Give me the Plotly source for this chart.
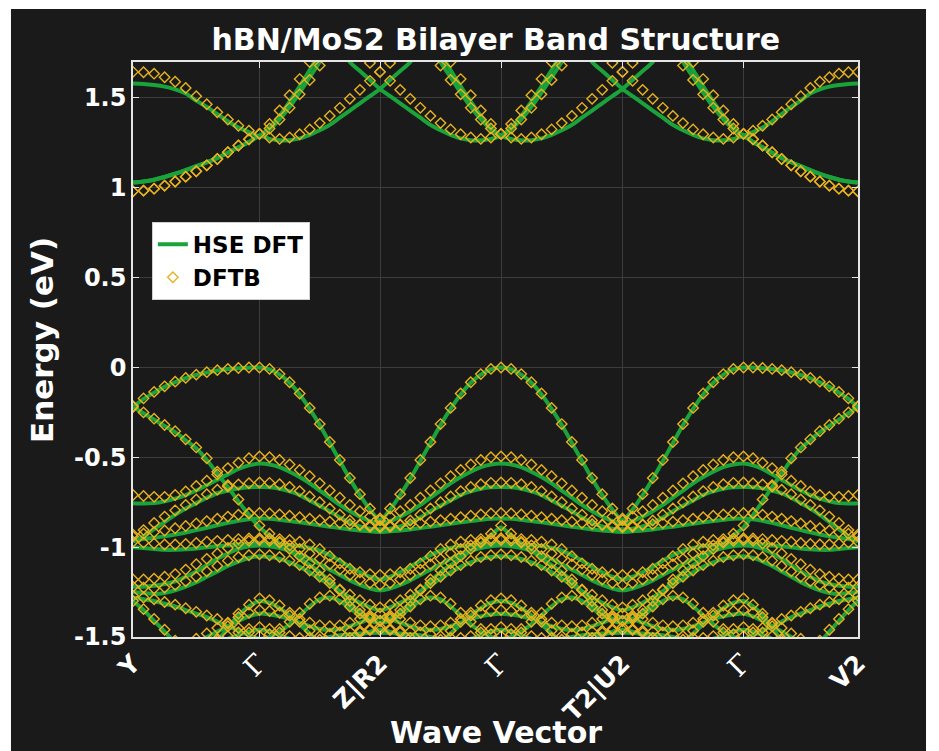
import numpy as np
import plotly.graph_objects as go

# ---------------------------------------------------------------
# k-path: Y - Γ - Z|R2 - Γ - T2|U2 - Γ - V2
# ---------------------------------------------------------------
tick_labels = ["Y", "Γ", "Z|R2", "Γ", "T2|U2", "Γ", "V2"]
segment_lengths = [1.265, 1.205, 1.21, 1.215, 1.21, 1.145]
points_per_leg = 12

# ---------------------------------------------------------------
# Conduction bands (eV). Legs: Y-Γ  and  Γ-Z|R2 pieces
# ---------------------------------------------------------------
hse_c_low_yg = [1.03, 1.035, 1.045, 1.06, 1.078, 1.098, 1.12, 1.142, 1.165, 1.195, 1.225, 1.255, 1.29]
hse_c_up_yg = [1.58, 1.578, 1.572, 1.563, 1.548, 1.525, 1.485, 1.45, 1.41, 1.37, 1.335, 1.31, 1.29]
hse_c_p_gz = [1.29, 1.272, 1.264, 1.265, 1.275, 1.295, 1.32, 1.35, 1.39, 1.43, 1.47, 1.51, 1.55]
hse_c_sq_gz = [1.29, 1.335, 1.40, 1.48, 1.565, 1.655, 1.75, 1.84, 1.80, 1.70, 1.65, 1.60, 1.55]
hse_c_ss_gz = [1.29, 1.325, 1.38, 1.45, 1.53, 1.615, 1.70, 1.80, 1.90, 1.96, 2.0, 2.02, 2.03]

dftb_c_low_yg = [0.98, 0.984, 0.995, 1.012, 1.035, 1.062, 1.092, 1.125, 1.16, 1.198, 1.235, 1.27, 1.30]
dftb_c_up_yg = [1.645, 1.643, 1.635, 1.615, 1.59, 1.555, 1.51, 1.465, 1.42, 1.38, 1.345, 1.318, 1.30]
dftb_c_p_gz = [1.30, 1.28, 1.272, 1.28, 1.298, 1.325, 1.36, 1.40, 1.445, 1.495, 1.545, 1.595, 1.645]
dftb_c_sq_gz = [1.30, 1.355, 1.43, 1.515, 1.605, 1.70, 1.80, 1.88, 1.86, 1.80, 1.745, 1.695, 1.645]
dftb_c_ss_gz = [1.30, 1.33, 1.38, 1.445, 1.52, 1.60, 1.68, 1.77, 1.86, 1.93, 1.98, 2.0, 2.01]

# ---------------------------------------------------------------
# Valence bands (eV): (Y-Γ leg, Γ-Z|R2 leg)
# ---------------------------------------------------------------
hse_valence = [
    ([-0.22, -0.175, -0.14, -0.108, -0.082, -0.06, -0.042, -0.028, -0.017, -0.009, -0.004, -0.001, 0.0],
     [0.0, -0.01, -0.04, -0.085, -0.15, -0.23, -0.32, -0.42, -0.52, -0.62, -0.71, -0.79, -0.85]),
    ([-0.22, -0.255, -0.29, -0.325, -0.36, -0.405, -0.45, -0.515, -0.59, -0.665, -0.745, -0.82, -0.89],
     [-0.89, -0.935, -0.98, -1.02, -1.06, -1.10, -1.14, -1.19, -1.25, -1.31, -1.36, -1.40, -1.42]),
    ([-0.755, -0.757, -0.755, -0.745, -0.73, -0.71, -0.685, -0.655, -0.625, -0.595, -0.565, -0.545, -0.535],
     [-0.535, -0.54, -0.555, -0.58, -0.61, -0.645, -0.685, -0.725, -0.765, -0.80, -0.83, -0.855, -0.87]),
    ([-0.97, -0.94, -0.90, -0.86, -0.82, -0.785, -0.755, -0.725, -0.70, -0.685, -0.673, -0.667, -0.665],
     [-0.665, -0.667, -0.675, -0.69, -0.71, -0.74, -0.77, -0.80, -0.835, -0.865, -0.885, -0.897, -0.90]),
    ([-0.96, -0.955, -0.948, -0.94, -0.93, -0.918, -0.905, -0.892, -0.878, -0.865, -0.853, -0.845, -0.84],
     [-0.84, -0.842, -0.848, -0.855, -0.862, -0.87, -0.878, -0.886, -0.894, -0.902, -0.908, -0.912, -0.915]),
    ([-1.0, -1.005, -1.01, -1.015, -1.015, -1.012, -1.008, -1.0, -0.995, -0.99, -0.985, -0.982, -0.98],
     [-0.98, -0.982, -0.985, -0.99, -0.995, -1.005, -1.02, -1.045, -1.075, -1.11, -1.14, -1.165, -1.18]),
    ([-1.22, -1.22, -1.215, -1.205, -1.19, -1.165, -1.135, -1.10, -1.065, -1.035, -1.01, -0.995, -0.99],
     [-0.99, -0.995, -1.005, -1.02, -1.04, -1.065, -1.095, -1.125, -1.155, -1.185, -1.21, -1.23, -1.24]),
    ([-1.25, -1.255, -1.26, -1.255, -1.24, -1.22, -1.195, -1.165, -1.135, -1.105, -1.08, -1.06, -1.05],
     [-1.05, -1.055, -1.065, -1.085, -1.11, -1.14, -1.175, -1.21, -1.245, -1.28, -1.31, -1.335, -1.35]),
    ([-1.28, -1.29, -1.30, -1.315, -1.33, -1.35, -1.37, -1.39, -1.415, -1.44, -1.465, -1.49, -1.51],
     [-1.51, -1.50, -1.47, -1.43, -1.38, -1.33, -1.29, -1.28, -1.30, -1.34, -1.38, -1.41, -1.42]),
    ([-1.30, -1.35, -1.41, -1.47, -1.53, -1.58, -1.60, -1.58, -1.52, -1.45, -1.38, -1.33, -1.30],
     [-1.30, -1.31, -1.34, -1.38, -1.43, -1.48, -1.53, -1.56, -1.55, -1.52, -1.49, -1.47, -1.46]),
    ([-1.62, -1.62, -1.61, -1.60, -1.58, -1.56, -1.53, -1.50, -1.47, -1.44, -1.41, -1.385, -1.37],
     [-1.37, -1.375, -1.385, -1.40, -1.42, -1.44, -1.455, -1.46, -1.455, -1.44, -1.42, -1.40, -1.39]),
    ([-1.75, -1.74, -1.72, -1.70, -1.67, -1.64, -1.60, -1.57, -1.54, -1.51, -1.49, -1.47, -1.46],
     [-1.46, -1.47, -1.49, -1.51, -1.52, -1.52, -1.51, -1.50, -1.49, -1.485, -1.48, -1.478, -1.477]),
]

dftb_valence = [
    ([-0.22, -0.172, -0.136, -0.105, -0.079, -0.058, -0.04, -0.026, -0.015, -0.008, -0.003, 0.0, 0.0],
     [0.0, -0.008, -0.037, -0.082, -0.145, -0.225, -0.315, -0.415, -0.515, -0.615, -0.705, -0.785, -0.84]),
    ([-0.215, -0.25, -0.285, -0.32, -0.355, -0.40, -0.445, -0.505, -0.58, -0.655, -0.735, -0.81, -0.88],
     [-0.88, -0.925, -0.97, -1.01, -1.05, -1.09, -1.13, -1.18, -1.24, -1.30, -1.35, -1.39, -1.41]),
    ([-0.71, -0.715, -0.72, -0.72, -0.71, -0.69, -0.66, -0.63, -0.595, -0.56, -0.53, -0.505, -0.495],
     [-0.495, -0.50, -0.515, -0.54, -0.57, -0.605, -0.645, -0.685, -0.725, -0.765, -0.80, -0.83, -0.85]),
    ([-0.94, -0.905, -0.865, -0.83, -0.795, -0.765, -0.735, -0.705, -0.68, -0.663, -0.651, -0.644, -0.64],
     [-0.64, -0.642, -0.65, -0.665, -0.688, -0.718, -0.75, -0.785, -0.82, -0.852, -0.874, -0.887, -0.89]),
    ([-0.93, -0.925, -0.917, -0.907, -0.895, -0.882, -0.868, -0.855, -0.842, -0.83, -0.82, -0.813, -0.81],
     [-0.81, -0.812, -0.818, -0.825, -0.833, -0.842, -0.85, -0.858, -0.866, -0.872, -0.877, -0.88, -0.882]),
    ([-0.97, -0.975, -0.98, -0.985, -0.985, -0.982, -0.977, -0.97, -0.965, -0.96, -0.955, -0.952, -0.95],
     [-0.95, -0.952, -0.955, -0.96, -0.97, -0.985, -1.01, -1.05, -1.09, -1.12, -1.14, -1.15, -1.155]),
    ([-1.18, -1.18, -1.175, -1.165, -1.15, -1.125, -1.095, -1.065, -1.035, -1.005, -0.98, -0.965, -0.96],
     [-0.96, -0.965, -0.975, -0.99, -1.01, -1.035, -1.065, -1.095, -1.125, -1.155, -1.18, -1.2, -1.21]),
    ([-1.22, -1.225, -1.23, -1.225, -1.21, -1.19, -1.165, -1.135, -1.105, -1.075, -1.055, -1.045, -1.04],
     [-1.04, -1.045, -1.055, -1.075, -1.10, -1.13, -1.165, -1.20, -1.235, -1.265, -1.295, -1.32, -1.335]),
    ([-1.27, -1.28, -1.29, -1.305, -1.32, -1.34, -1.36, -1.38, -1.40, -1.425, -1.45, -1.475, -1.495],
     [-1.495, -1.485, -1.455, -1.415, -1.365, -1.315, -1.28, -1.27, -1.29, -1.33, -1.37, -1.40, -1.41]),
    ([-1.30, -1.345, -1.40, -1.46, -1.52, -1.57, -1.59, -1.57, -1.51, -1.44, -1.37, -1.32, -1.285],
     [-1.285, -1.295, -1.325, -1.365, -1.415, -1.465, -1.515, -1.545, -1.535, -1.505, -1.475, -1.455, -1.445]),
    ([-1.60, -1.60, -1.59, -1.58, -1.56, -1.54, -1.51, -1.48, -1.45, -1.42, -1.39, -1.365, -1.35],
     [-1.35, -1.355, -1.365, -1.38, -1.40, -1.42, -1.435, -1.44, -1.435, -1.42, -1.40, -1.38, -1.37]),
    ([-1.73, -1.72, -1.70, -1.68, -1.65, -1.62, -1.58, -1.55, -1.52, -1.495, -1.475, -1.455, -1.445],
     [-1.445, -1.455, -1.475, -1.495, -1.505, -1.505, -1.495, -1.485, -1.475, -1.47, -1.465, -1.462, -1.46]),
]

# ---------------------------------------------------------------
# Build the full path
# ---------------------------------------------------------------
k_ticks = np.concatenate([[0.0], np.cumsum(segment_lengths)])
k = np.concatenate([
    np.linspace(k_ticks[i], k_ticks[i + 1], points_per_leg + 1)[(1 if i else 0):]
    for i in range(len(segment_lengths))
])


def rev(seg):
    return list(seg)[::-1]


def join(*legs):
    out = list(legs[0])
    for leg in legs[1:]:
        out += list(leg)[1:]
    return out


def valence_path(yg, gz):
    # Y-Γ, Γ-Z|R2, Z|R2-Γ, Γ-T2|U2, T2|U2-Γ, Γ-V2
    return join(yg, gz, rev(gz), gz, rev(gz), rev(yg))


def conduction_paths(low, up, p, sq, ss):
    return [
        join(low, p, rev(sq), p, rev(sq), rev(low)),
        join(up, sq, rev(p), sq, rev(p), rev(up)),
        join(low, ss, rev(ss), ss, rev(ss), rev(low)),
    ]


hse_bands = conduction_paths(hse_c_low_yg, hse_c_up_yg, hse_c_p_gz, hse_c_sq_gz, hse_c_ss_gz)
hse_bands += [valence_path(a, b) for a, b in hse_valence]
dftb_bands = conduction_paths(dftb_c_low_yg, dftb_c_up_yg, dftb_c_p_gz, dftb_c_sq_gz, dftb_c_ss_gz)
dftb_bands += [valence_path(a, b) for a, b in dftb_valence]

# ---------------------------------------------------------------
# Figure
# ---------------------------------------------------------------
BG = "#1a1a1a"
GREEN = "#1ba33b"
GOLD = "#e8b21f"
AXIS = "#e4e4e4"
GRID = "#3c3c3c"

fig = go.Figure()

for i, band in enumerate(hse_bands):
    fig.add_trace(go.Scatter(
        x=k, y=band, mode="lines", name="HSE DFT",
        showlegend=(i == 0), hoverinfo="skip",
        line=dict(color=GREEN, width=4, shape="spline", smoothing=0.8),
    ))

for i, band in enumerate(dftb_bands):
    fig.add_trace(go.Scatter(
        x=k, y=band, mode="markers", name="DFTB",
        showlegend=(i == 0), hoverinfo="skip",
        marker=dict(symbol="diamond-open", size=8, color=GOLD,
                    line=dict(color=GOLD, width=1.4)),
    ))

gamma = '<span style="font-family:DejaVu Serif;font-weight:normal;font-size:27px">Γ</span>'
tick_text = [gamma if t == "Γ" else t for t in tick_labels]

energy_ticks = [-1.5, -1, -0.5, 0, 0.5, 1, 1.5]
energy_text = ["-1.5", "-1", "-0.5", "0", "0.5", "1", "1.5"]

fig.update_layout(
    width=939, height=751,
    margin=dict(l=133, r=81, t=62, b=114),
    paper_bgcolor="white",
    plot_bgcolor=BG,
    font=dict(family="DejaVu Sans", color="white", size=24, weight="bold"),
    title=dict(text="hBN/MoS2 Bilayer Band Structure", x=0.528, y=0.947,
               xref="container", yref="container",
               xanchor="center", yanchor="middle",
               font=dict(size=30, color="white", family="DejaVu Sans", weight="bold")),
    showlegend=True,
    legend=dict(x=0.026, y=0.722, xanchor="left", yanchor="top",
                bgcolor="white", bordercolor="#d0d0d0", borderwidth=1,
                font=dict(color="black", size=23, family="DejaVu Sans", weight="bold"),
                tracegroupgap=0, itemwidth=30),
    shapes=[dict(type="rect", xref="paper", yref="paper",
                 x0=-0.1683, x1=1.0938, y0=-0.25, y1=1.0922,
                 fillcolor=BG, line=dict(width=0), layer="below")],
    annotations=[
        dict(text="Energy (eV)", xref="paper", yref="paper", x=-0.1255, y=0.5165,
             textangle=-90, showarrow=False, xanchor="center", yanchor="middle",
             font=dict(size=31, color="white", family="DejaVu Sans", weight="bold")),
        dict(text="Wave Vector", xref="paper", yref="paper", x=0.5, y=-0.166,
             showarrow=False, xanchor="center", yanchor="middle",
             font=dict(size=30, color="white", family="DejaVu Sans", weight="bold")),
    ],
)

fig.update_xaxes(
    range=[k_ticks[0], k_ticks[-1]],
    tickmode="array", tickvals=k_ticks, ticktext=tick_text, tickangle=-45,
    tickfont=dict(size=25, color="white"),
    showgrid=True, gridcolor=GRID, gridwidth=1, zeroline=False,
    showline=True, linecolor=AXIS, linewidth=1.5, mirror="ticks",
    ticks="inside", ticklen=6, tickcolor=AXIS,
)
fig.update_yaxes(
    range=[-1.5, 1.7],
    tickmode="array", tickvals=energy_ticks, ticktext=energy_text,
    tickfont=dict(size=24, color="white"),
    showgrid=True, gridcolor=GRID, gridwidth=1, zeroline=False,
    showline=True, linecolor=AXIS, linewidth=1.5, mirror="ticks",
    ticks="inside", ticklen=6, tickcolor=AXIS,
)

fig.write_html("out.html")
